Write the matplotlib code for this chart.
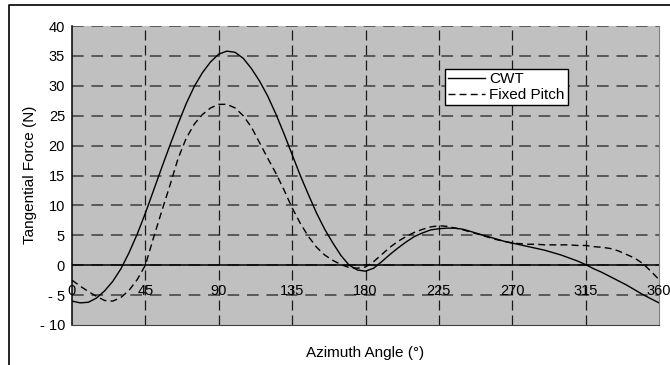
import matplotlib
matplotlib.use("Agg")
import matplotlib.pyplot as plt
from matplotlib.lines import Line2D

plt.rcParams["font.family"] = ["Liberation Sans", "DejaVu Sans"]

# Azimuth positions (deg) and tangential force (N) for each rotor
azimuth = list(range(0, 361, 5))
cwt = [-6.0, -6.3, -6.2, -5.5, -4.3, -2.7, -0.6, 2.1, 5.2, 8.7,
       12.5, 16.3, 20.0, 23.6, 27.0, 29.9, 32.2, 34.0, 35.3, 35.8,
       35.6, 34.6, 32.9, 30.8, 28.3, 25.3, 22.0, 18.5, 15.0, 11.8,
       8.7, 6.0, 3.7, 1.6, 0.0, -0.8, -1.0, -0.5, 0.6, 1.8,
       2.9, 3.9, 4.8, 5.4, 5.9, 6.1, 6.2, 6.2, 6.0, 5.6,
       5.2, 4.8, 4.4, 4.0, 3.7, 3.4, 3.1, 2.8, 2.5, 2.1,
       1.7, 1.2, 0.7, 0.1, -0.6, -1.2, -1.9, -2.6, -3.3, -4.1,
       -4.9, -5.6, -6.3]
fixed_pitch = [-2.5, -3.5, -4.4, -5.2, -5.9, -6.0, -5.4, -4.2, -2.4, 0.0,
               4.6, 9.0, 13.3, 17.8, 21.2, 23.6, 25.2, 26.3, 26.9, 26.9,
               26.3, 25.0, 23.1, 20.5, 17.9, 15.4, 12.6, 9.6, 7.0, 4.8,
               3.0, 1.7, 0.8, 0.1, -0.4, -0.5, -0.3, 0.6, 1.8, 3.0,
               4.0, 4.8, 5.5, 6.0, 6.4, 6.6, 6.5, 6.2, 5.9, 5.5,
               5.1, 4.7, 4.3, 4.0, 3.7, 3.6, 3.5, 3.5, 3.4, 3.4,
               3.4, 3.4, 3.3, 3.3, 3.1, 3.0, 2.8, 2.4, 1.8, 1.2,
               0.3, -1.0, -2.4]

x_ticks = [0, 45, 90, 135, 180, 225, 270, 315, 360]
y_ticks = [-10, -5, 0, 5, 10, 15, 20, 25, 30, 35, 40]

W, H = 670, 365
fig = plt.figure(figsize=(W / 100, H / 100), dpi=100)
ax = fig.add_axes([72 / W, (H - 325) / H, (659 - 72) / W, (325 - 26) / H])
ax.set_facecolor("#c0c0c0")
ax.set_xlim(0, 360)
ax.set_ylim(-10, 40)

# grid: gray dashed horizontals, thin black dashed verticals
for v in y_ticks[1:]:
    ax.axhline(v, color="#595959", lw=1.4, dashes=(6, 4), zorder=1)
for v in x_ticks[1:-1]:
    ax.axvline(v, color="#1a1a1a", lw=0.9, dashes=(8, 4), zorder=1)
ax.axhline(0, color="black", lw=1.1, zorder=2)

ax.plot(azimuth, cwt, color="black", lw=1.0, label="CWT", zorder=3)
ax.plot(azimuth, fixed_pitch, color="black", lw=1.0, dashes=(5, 3), label="Fixed Pitch", zorder=3)

ax.spines["top"].set_visible(False)
ax.spines["right"].set_color("#808080")
ax.spines["bottom"].set_color("#404040")
ax.spines["left"].set_color("black")
ax.spines["left"].set_linewidth(1.1)

ax.set_yticks(y_ticks)
ax.set_yticklabels([f"- {abs(v)}" if v < 0 else str(v) for v in y_ticks], fontsize=10.5)
ax.tick_params(axis="y", length=0, pad=5)
ax.set_xticks([])

# x tick labels sit just under the zero line
for v in x_ticks:
    ax.text(v, -4.3, str(v), ha="center", va="center", fontsize=10.5, zorder=4)

fig.text(30 / W, 1 - 175 / H, "Tangential Force (N)", rotation=90, ha="center", va="center",
         fontsize=11)
fig.text(365 / W, 1 - 353 / H, "Azimuth Angle (°)", ha="center", va="center", fontsize=11)

leg = ax.legend(loc="upper left", bbox_to_anchor=((445 - 72) / 587, (325 - 69) / 299),
                fontsize=11, frameon=True, fancybox=False, edgecolor="black",
                handlelength=2.4, handletextpad=0.3, borderpad=0.2, labelspacing=0.15,
                borderaxespad=0)
leg.get_frame().set_linewidth(1.0)
leg.get_frame().set_facecolor("white")
leg.get_frame().set_alpha(1)

# chart area border (left and top only)
fig.add_artist(Line2D([9 / W, 9 / W, 1], [0, 1 - 5 / H, 1 - 5 / H], color="black", lw=1.2,
                      transform=fig.transFigure))

fig.savefig("out.png", dpi=100)
